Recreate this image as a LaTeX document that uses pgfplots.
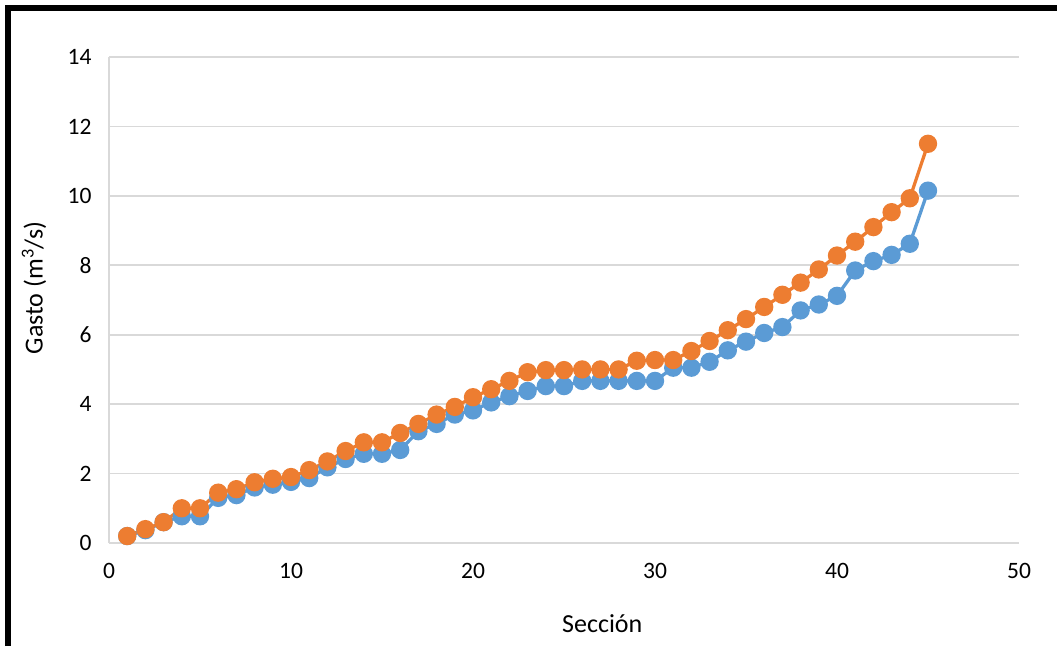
\documentclass[border=0pt]{standalone}
\usepackage{pgfplots}
\pgfplotsset{compat=1.18}
\usepackage{fontspec}
\setmainfont{Carlito}
\definecolor{sblue}{HTML}{5B9BD5}
\definecolor{sorange}{HTML}{ED7D31}
\definecolor{gridc}{HTML}{D9D9D9}
\begin{document}
\begin{tikzpicture}[x=1pt,y=1pt]
\useasboundingbox (0,0) rectangle (1057,646);
\draw[line width=6pt] (8,0) -- (8,638) -- (1057,638);
\begin{axis}[
  at={(109pt,103pt)}, anchor=south west,
  scale only axis, width=910pt, height=486pt,
  xmin=0, xmax=50, ymin=0, ymax=14,
  xtick={0,10,...,50}, ytick={0,2,...,14},
  axis x line=bottom, axis y line=left,
  axis line style={-, gridc, line width=1.8pt},
  ymajorgrids, grid style={gridc, line width=1.8pt},
  major tick length=0pt,
  /pgf/number format/assume math mode=true,
  tick label style={font=\fontsize{23.5}{28}\selectfont, text=black},
  yticklabel style={xshift=-14pt},
  xticklabel style={yshift=-17pt},
  label style={font=\fontsize{26}{30}\selectfont},
  xlabel={Sección},
  ylabel={Gasto (m\textsuperscript{3}/s)},
  xlabel style={at={(axis description cs:0.542,-0.1667)}, anchor=center},
  ylabel style={at={(axis description cs:-0.0824,0.5247)}, anchor=center},
  clip=false,
]
\addplot[sblue, line width=3.3pt, mark=*, mark size=7.5pt, mark options={solid}] coordinates {
(1,0.2) (2,0.37) (3,0.6) (4,0.77) (5,0.77) (6,1.3) (7,1.38) (8,1.6) (9,1.68) (10,1.76)
(11,1.87) (12,2.18) (13,2.42) (14,2.57) (15,2.57) (16,2.68) (17,3.22) (18,3.43) (19,3.7) (20,3.82)
(21,4.05) (22,4.23) (23,4.38) (24,4.52) (25,4.52) (26,4.67) (27,4.67) (28,4.67) (29,4.67) (30,4.67)
(31,5.05) (32,5.05) (33,5.22) (34,5.55) (35,5.8) (36,6.05) (37,6.22) (38,6.7) (39,6.87) (40,7.12)
(41,7.85) (42,8.12) (43,8.3) (44,8.62) (45,10.15)
};
\addplot[sorange, line width=3.3pt, mark=*, mark size=7.5pt, mark options={solid}] coordinates {
(1,0.2) (2,0.4) (3,0.6) (4,1.0) (5,1.0) (6,1.45) (7,1.55) (8,1.75) (9,1.85) (10,1.9)
(11,2.1) (12,2.35) (13,2.65) (14,2.9) (15,2.9) (16,3.17) (17,3.43) (18,3.7) (19,3.92) (20,4.2)
(21,4.43) (22,4.67) (23,4.92) (24,4.98) (25,4.98) (26,5.0) (27,5.0) (28,5.0) (29,5.25) (30,5.27)
(31,5.27) (32,5.53) (33,5.82) (34,6.13) (35,6.45) (36,6.8) (37,7.15) (38,7.5) (39,7.88) (40,8.28)
(41,8.68) (42,9.1) (43,9.53) (44,9.93) (45,11.5)
};
\end{axis}
\end{tikzpicture}
\end{document}
